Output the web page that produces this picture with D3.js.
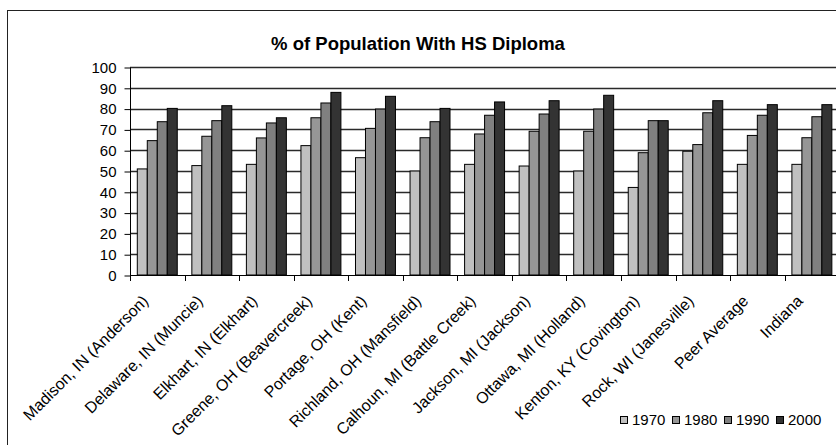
<!DOCTYPE html>
<html>
<head>
<meta charset="utf-8">
<script src="https://d3js.org/d3.v7.min.js"></script>
<style>
  body { margin: 0; background: #fff; }
  svg { display: block; font-family: "Liberation Sans", Arial, sans-serif; }
</style>
</head>
<body>
<div id="chart"></div>
<script>
// chart data
var categories = ["Madison, IN (Anderson)", "Delaware, IN (Muncie)", "Elkhart, IN (Elkhart)",
  "Greene, OH (Beavercreek)", "Portage, OH (Kent)", "Richland, OH (Mansfield)",
  "Calhoun, MI (Battle Creek)", "Jackson, MI (Jackson)", "Ottawa, MI (Holland)",
  "Kenton, KY (Covington)", "Rock, WI (Janesville)", "Peer Average", "Indiana"];
var years = ["1970", "1980", "1990", "2000"];
var v1970 = [51.0, 52.6, 53.2, 62.2, 56.4, 50.0, 53.2, 52.4, 50.0, 42.1, 59.5, 53.2, 53.2];
var v1980 = [64.6, 66.7, 65.9, 75.6, 70.5, 66.0, 67.8, 69.1, 69.1, 58.8, 62.7, 67.1, 66.0];
var v1990 = [73.7, 74.2, 73.1, 82.7, 79.8, 73.7, 76.8, 77.4, 79.8, 74.2, 78.0, 76.8, 76.1];
var v2000 = [80.1, 81.4, 75.6, 87.8, 85.9, 80.1, 83.2, 83.8, 86.4, 74.2, 83.8, 81.9, 81.9];
var yTicks = [0, 10, 20, 30, 40, 50, 60, 70, 80, 90, 100];

var seriesValues = [v1970, v1980, v1990, v2000];
var colors = ["#c0c0c0", "#969696", "#808080", "#333333"];

var svgWidth = 836;
var svgHeight = 445;

// plot area (runs past the right edge, like the original)
var plot = { left: 130, top: 67, bottom: 275, catWidth: 54.55 };

var svg = d3.select("#chart").append("svg")
  .attr("width", svgWidth)
  .attr("height", svgHeight);

// outer chart frame
svg.append("rect")
  .attr("x", 7.5)
  .attr("y", 10.5)
  .attr("width", 900)
  .attr("height", 500)
  .attr("fill", "#fff")
  .attr("stroke", "#222")
  .attr("stroke-width", 1);

// title
svg.append("text")
  .attr("x", 418)
  .attr("y", 50)
  .attr("text-anchor", "middle")
  .style("font-size", "18.5px")
  .style("font-weight", "bold")
  .text("% of Population With HS Diploma");

// scales
var x0 = d3.scaleBand()
  .domain(categories)
  .range([plot.left, plot.left + plot.catWidth * categories.length])
  .paddingInner(0)
  .paddingOuter(0);

var x1 = d3.scaleBand()
  .domain(years)
  .range([0, x0.bandwidth()])
  .paddingInner(0)
  .paddingOuter(0.73);

var y = d3.scaleLinear()
  .domain([0, 100])
  .range([plot.bottom, plot.top]);

// gridlines
svg.append("g")
  .selectAll("line")
  .data(yTicks.slice(1))
  .enter()
  .append("line")
  .attr("x1", plot.left)
  .attr("x2", svgWidth + 10)
  .attr("y1", d => Math.round(y(d)) + 0.5)
  .attr("y2", d => Math.round(y(d)) + 0.5)
  .attr("stroke", "#2a2a2a")
  .attr("stroke-width", 1.4);

// bars
var rows = categories.map(function(c, i) {
  return { cat: c, vals: years.map((yr, j) => ({ year: yr, value: seriesValues[j][i], idx: j })) };
});

var groups = svg.append("g").selectAll("g")
  .data(rows)
  .enter()
  .append("g")
  .attr("transform", d => `translate(${x0(d.cat)}, 0)`);

groups.selectAll("rect")
  .data(d => d.vals)
  .enter()
  .append("rect")
  .attr("x", d => x1(d.year))
  .attr("y", d => y(d.value))
  .attr("width", x1.bandwidth())
  .attr("height", d => plot.bottom - y(d.value))
  .attr("fill", d => colors[d.idx])
  .attr("stroke", "#000")
  .attr("stroke-width", 1);

// y axis
var yAxis = d3.axisLeft(y)
  .tickValues(yTicks)
  .tickSize(6)
  .tickPadding(8);

var yAxisGroup = svg.append("g")
  .attr("transform", `translate(${plot.left + 0.5}, 0.5)`)
  .call(yAxis);
yAxisGroup.select(".domain").attr("stroke", "#000").attr("d", `M0,${y(100)}V${y(0)}`);
yAxisGroup.selectAll("line").attr("stroke", "#000");
yAxisGroup.selectAll("text")
  .style("font-size", "15px")
  .style("font-family", "'Liberation Sans', Arial, sans-serif")
  .attr("fill", "#000");

// x axis line with ticks at category boundaries
var xAxisGroup = svg.append("g");
xAxisGroup.append("line")
  .attr("x1", plot.left)
  .attr("x2", svgWidth + 10)
  .attr("y1", plot.bottom + 0.5)
  .attr("y2", plot.bottom + 0.5)
  .attr("stroke", "#000");
xAxisGroup.selectAll(".xtick")
  .data(categories)
  .enter()
  .append("line")
  .attr("class", "xtick")
  .attr("x1", d => Math.round(x0(d)) + 0.5)
  .attr("x2", d => Math.round(x0(d)) + 0.5)
  .attr("y1", plot.bottom)
  .attr("y2", plot.bottom + 6)
  .attr("stroke", "#000");

// rotated category labels
xAxisGroup.selectAll(".xlabel")
  .data(categories)
  .enter()
  .append("text")
  .attr("class", "xlabel")
  .attr("text-anchor", "end")
  .attr("transform", d => `translate(${x0(d) + x0.bandwidth() / 2 - 8}, 302) rotate(-45)`)
  .style("font-size", "16px")
  .text(d => d);

// legend
var legend = svg.append("g").attr("transform", "translate(620, 416)");
var legendX = [0, 52, 104, 156];
var items = legend.selectAll("g")
  .data(years)
  .enter()
  .append("g")
  .attr("transform", (d, i) => `translate(${legendX[i]}, 0)`);
items.append("rect")
  .attr("x", 0.5)
  .attr("y", 0.5)
  .attr("width", 7)
  .attr("height", 7)
  .attr("fill", (d, i) => colors[i])
  .attr("stroke", "#000");
items.append("text")
  .attr("x", 12)
  .attr("y", 9)
  .style("font-size", "15px")
  .text(d => d);
</script>
</body>
</html>
